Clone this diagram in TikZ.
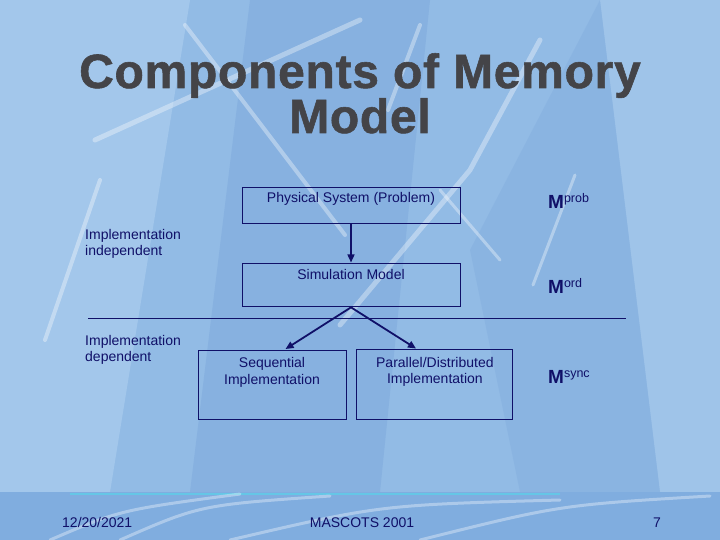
\documentclass[tikz,border=0pt]{standalone}
\usepackage{fontspec}
\setmainfont{Liberation Sans}
\newfontfamily\titlefont[FakeBold=1.2, LetterSpace=1.5]{Liberation Sans Bold}
\usetikzlibrary{arrows.meta, positioning}
\definecolor{slidebg}{RGB}{146,187,229}
\definecolor{slidelight}{RGB}{168,203,237}
\definecolor{slidedark}{RGB}{128,171,221}
\definecolor{footerbg}{RGB}{128,173,223}
\definecolor{cyanline}{RGB}{95,205,232}
\definecolor{navy}{RGB}{16,16,104}
\definecolor{titlegray}{RGB}{68,68,72}
\newcommand{\memM}[1]{{\fontsize{19}{21}\selectfont\bfseries M}\raisebox{5.5pt}{\fontsize{12.5}{14}\selectfont #1}}

\begin{document}
\begin{tikzpicture}[x=1pt, y=-1pt,
  box/.style={rectangle, draw=navy, line width=0.9pt},
  txt/.style={text=navy, font=\fontsize{14}{16.5}\selectfont, align=center, inner sep=0pt},
  arrow/.style={-{Triangle[length=8pt, width=7pt]}, line width=1.8pt, navy, shorten >=1pt},
  streak/.style={white, opacity=0.35, line cap=round}
]
\useasboundingbox (0,0) rectangle (720,540);

% slide background
\fill[slidebg] (0,0) rectangle (720,540);
\fill[slidelight, opacity=0.8] (0,0) -- (190,0) -- (110,492) -- (0,492) -- cycle;
\fill[slidedark, opacity=0.6] (250,0) -- (430,0) -- (380,492) -- (190,492) -- cycle;
\fill[slidelight, opacity=0.6] (600,0) -- (720,0) -- (720,492) -- (660,492) -- cycle;
\fill[slidedark, opacity=0.4] (470,250) -- (600,0) -- (660,492) -- (520,492) -- cycle;
\draw[streak, line width=5pt] (95,140) -- (360,20);
\draw[streak, line width=4pt] (185,25) -- (345,235);
\draw[streak, line width=4pt] (420,25) -- (388,110);
\draw[streak, line width=5pt] (340,325) -- (470,170) -- (540,40);
\draw[streak, line width=3pt] (575,175) -- (533,285);
\draw[streak, line width=4pt] (100,180) -- (45,340);
\draw[streak, line width=3pt] (440,190) -- (500,260);

% footer band
\fill[footerbg] (0,492) rectangle (720,540);
\draw[cyanline, line width=2.5pt, opacity=0.8] (70,494) -- (560,494);
\draw[streak, line width=3pt] (50,540) .. controls (120,510) .. (240,494);
\draw[streak, line width=3pt] (120,540) .. controls (200,505) .. (330,496);
\draw[streak, line width=3pt] (230,540) .. controls (380,505) .. (560,500);
\draw[streak, line width=3pt] (420,540) .. controls (560,505) .. (710,496);

% title
\node[anchor=north, inner sep=0pt, align=center, text=titlegray,
      font=\titlefont\fontsize{48}{45}\selectfont] (title) at (360,53)
      {Components of Memory\\Model};

% diagram
\node[box, minimum width=218pt, minimum height=36pt,
      label={[txt, anchor=north, yshift=-5.7pt]north:Physical System (Problem)}]
      (phys) at (351,205) {};
\node[box, minimum width=218pt, minimum height=43pt, below=40pt of phys,
      label={[txt, anchor=north, yshift=-5.8pt]north:Simulation Model}] (sim) {};
\node[box, minimum width=148pt, minimum height=69pt,
      label={[txt, anchor=north, yshift=-7.7pt]north:Sequential\\Implementation}]
      (seq) at (272,384.5) {};
\node[box, minimum width=156pt, minimum height=70pt, right=10pt of seq,
      label={[txt, anchor=north, yshift=-7.7pt]north:Parallel/Distributed\\Implementation}]
      (par) {};

\draw[arrow, line width=1.5pt] (phys) -- (sim);
\draw[arrow] (sim.south) -- (seq.70);
\draw[arrow] (sim.south) -- (par.117);

\coordinate (divL) at (88,318);
\coordinate (divR) at (626,318);
\draw[navy, line width=0.9pt] (divL) -- (divR);

\node[txt, align=left, anchor=north west] (indep) at (85,228.8) {Implementation\\independent};
\node[txt, align=left, anchor=north west] (dep) at (85,334.8) {Implementation\\dependent};

\node[txt, anchor=base west] (mprob) at (548,208) {\memM{prob}};
\node[txt, anchor=base west] (mord) at (548,293) {\memM{ord}};
\node[txt, anchor=base west] (msync) at (548,383) {\memM{sync}};

% footer
\node[txt, anchor=base west] (date) at (62,527) {12/20/2021};
\node[txt, anchor=base] (conf) at (362,527) {MASCOTS 2001};
\node[txt, anchor=base] (pageno) at (657,527) {7};
\end{tikzpicture}
\end{document}
